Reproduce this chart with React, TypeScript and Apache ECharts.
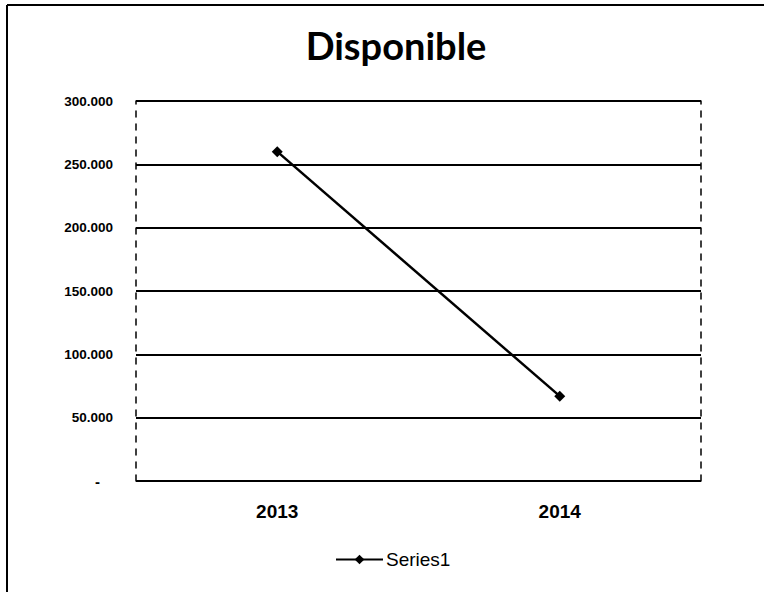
import React, { useEffect, useRef } from "react";
import * as echarts from "echarts";

const categories = ["2013", "2014"];
const seriesName = "Series1";
const seriesValues = [260000, 67000];
const yTicks = [0, 50000, 100000, 150000, 200000, 250000, 300000];

function fmt(v: number): string {
  if (v === 0) return "{z|-}";
  return String(v).replace(/\B(?=(\d{3})+(?!\d))/g, ".");
}

export default function App() {
  const ref = useRef<HTMLDivElement>(null);
  useEffect(() => {
    if (!ref.current) return;
    const chart = echarts.init(ref.current, undefined, { renderer: "svg" });
    chart.setOption({
      animation: false,
      backgroundColor: "#ffffff",
      title: {
        text: "Disponible",
        left: 391,
        top: 21,
        textAlign: "center",
        textStyle: {
          fontFamily: "Lato, 'Liberation Sans', sans-serif",
          fontWeight: "bold",
          fontSize: 38,
          color: "#000",
        },
      },
      legend: {
        left: 335,
        top: 550,
        padding: 0,
        itemWidth: 47,
        itemHeight: 12,
        itemGap: 4,
        textStyle: {
          fontFamily: "'Liberation Sans', sans-serif",
          fontSize: 19,
          color: "#000",
          padding: [0, 0, 0, -2],
        },
        data: [seriesName],
      },
      grid: { left: 136, right: 63, top: 101, bottom: 111 },
      xAxis: {
        type: "category",
        data: categories,
        boundaryGap: true,
        axisLine: { show: false },
        axisTick: { show: false },
        axisLabel: {
          margin: 21,
          fontFamily: "'Liberation Sans', sans-serif",
          fontSize: 19,
          fontWeight: "bold",
          color: "#000",
        },
      },
      yAxis: [
        {
          type: "value",
          min: 0,
          max: 300000,
          interval: 50000,
          axisLine: {
            show: true,
            lineStyle: { color: "#000", width: 1.5, type: [6, 7] },
          },
          axisTick: { show: false },
          splitLine: { lineStyle: { color: "#000", width: 2 } },
          axisLabel: {
            margin: 23,
            fontFamily: "'Liberation Sans', sans-serif",
            fontSize: 13.5,
            fontWeight: "bold",
            color: "#000",
            formatter: (v: number) => (yTicks.includes(v) ? fmt(v) : ""),
            rich: {
              z: {
                fontFamily: "'Liberation Sans', sans-serif",
                fontSize: 15,
                fontWeight: "bold",
                color: "#000",
                padding: [0, 13, 0, 0],
              },
            },
          },
        },
        {
          type: "value",
          position: "right",
          min: 0,
          max: 300000,
          interval: 50000,
          axisLine: {
            show: true,
            lineStyle: { color: "#000", width: 1.5, type: [6, 7] },
          },
          axisTick: { show: false },
          axisLabel: { show: false },
          splitLine: { show: false },
        },
      ],
      series: [
        {
          name: seriesName,
          type: "line",
          data: seriesValues,
          symbol: "diamond",
          symbolSize: 11,
          lineStyle: { color: "#000", width: 2.5 },
          itemStyle: { color: "#000" },
        },
      ],
      graphic: [
        {
          type: "line",
          shape: { x1: 7, y1: 5, x2: 7, y2: 592 },
          style: { stroke: "#000", lineWidth: 2 },
        },
        {
          type: "line",
          shape: { x1: 7, y1: 5, x2: 764, y2: 5 },
          style: { stroke: "#000", lineWidth: 2 },
        },
      ],
    });
    return () => chart.dispose();
  }, []);
  return (
    <div
      ref={ref}
      style={{ position: "fixed", left: 0, top: 0, width: 764, height: 592 }}
    />
  );
}
